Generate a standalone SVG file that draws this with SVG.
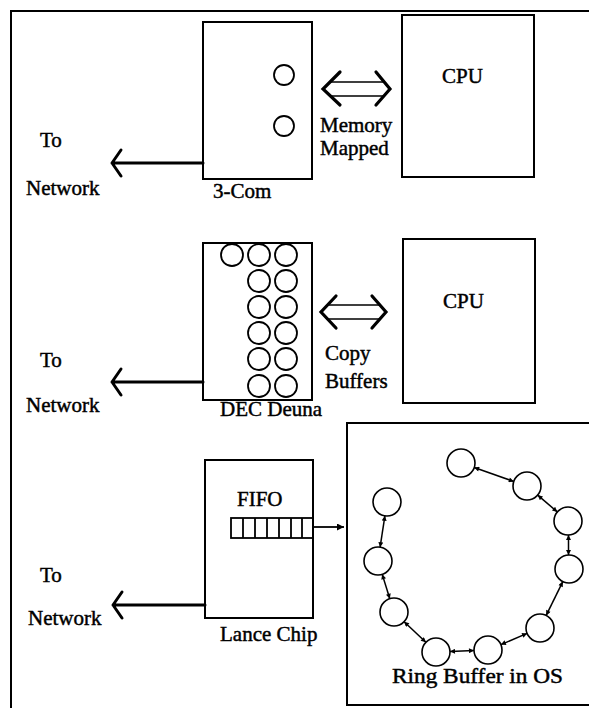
<svg xmlns="http://www.w3.org/2000/svg" width="589" height="708" viewBox="0 0 589 708">
<style>
  .box { fill: none; stroke: #000; stroke-width: 2; }
  .buf { fill: none; stroke: #000; stroke-width: 1.8; }
  .lbl { font-family: 'Liberation Serif', 'DejaVu Serif', serif; font-size: 21px; fill: #000; stroke: #000; stroke-width: 0.45; }
  .net { fill: none; stroke: #000; stroke-width: 3; stroke-linecap: round; stroke-linejoin: round; }
  .dbl { fill: none; stroke: #000; stroke-linecap: round; }
  .ring { fill: none; stroke: #000; stroke-width: 1.6; }
</style>
<defs>
  <marker id="ah" viewBox="0 0 6 6" refX="6" refY="3" markerWidth="6" markerHeight="5" orient="auto-start-reverse" markerUnits="userSpaceOnUse">
    <path d="M0,0 L6,3 L0,6 z" fill="#000"/>
  </marker>
  <marker id="ahf" viewBox="0 0 8 8" refX="8" refY="4" markerWidth="8" markerHeight="7" orient="auto" markerUnits="userSpaceOnUse">
    <path d="M0,0 L8,4 L0,8 z" fill="#000"/>
  </marker>
</defs>
<rect width="589" height="708" fill="#fff"/>

<g id="frame">
  <path d="M11,708 V11 H589" class="box"/>
</g>

<g id="threecom">
  <rect x="203" y="22" width="109" height="157" class="box"/>
  <circle cx="284" cy="75" r="10" class="buf"/>
  <circle cx="284" cy="126" r="10" class="buf"/>
  <text x="213" y="198" class="lbl">3-Com</text>
</g>
<g id="cpu1">
  <rect x="402" y="15" width="132" height="162" class="box"/>
  <text x="442" y="83" class="lbl">CPU</text>
</g>
<g id="net1">
  <text x="40" y="147" class="lbl">To</text>
  <text x="26" y="195" class="lbl">Network</text>
</g>
<g id="label-mm">
  <text x="320" y="132" class="lbl">Memory</text>
  <text x="320" y="155" class="lbl">Mapped</text>
</g>

<g id="deuna">
  <rect x="203" y="243" width="109" height="157" class="box"/>
  <circle cx="232" cy="255" r="11" class="buf"/>
  <circle cx="259" cy="255" r="11" class="buf"/>
  <circle cx="286" cy="255" r="11" class="buf"/>
  <circle cx="259" cy="281" r="11" class="buf"/>
  <circle cx="286" cy="281" r="11" class="buf"/>
  <circle cx="259" cy="307" r="11" class="buf"/>
  <circle cx="286" cy="307" r="11" class="buf"/>
  <circle cx="259" cy="333" r="11" class="buf"/>
  <circle cx="286" cy="333" r="11" class="buf"/>
  <circle cx="259" cy="359" r="11" class="buf"/>
  <circle cx="286" cy="359" r="11" class="buf"/>
  <circle cx="259" cy="386" r="11" class="buf"/>
  <circle cx="286" cy="386" r="11" class="buf"/>
  <text x="220" y="416" class="lbl">DEC Deuna</text>
</g>
<g id="cpu2">
  <rect x="403" y="239" width="132" height="164" class="box"/>
  <text x="443" y="308" class="lbl">CPU</text>
</g>
<g id="net2">
  <text x="40" y="367" class="lbl">To</text>
  <text x="26" y="412" class="lbl">Network</text>
</g>
<g id="label-cb">
  <text x="325" y="360" class="lbl">Copy</text>
  <text x="325" y="388" class="lbl">Buffers</text>
</g>

<g id="lance">
  <rect x="205" y="460" width="108" height="158" class="box"/>
  <text x="237" y="506" class="lbl">FIFO</text>
  <rect x="231" y="518" width="82" height="20" fill="none" stroke="#000" stroke-width="1.8"/>
  <path d="M243,518 V538 M255,518 V538 M267,518 V538 M279,518 V538 M291,518 V538 M302,518 V538" stroke="#000" stroke-width="1.8" fill="none"/>
  <text x="220" y="641" class="lbl">Lance Chip</text>
</g>
<g id="net3">
  <text x="40" y="582" class="lbl">To</text>
  <text x="28" y="625" class="lbl">Network</text>
</g>
<g id="ringbuffer">
  <path d="M592,423 H347 V705 H592" class="box"/>
  <circle cx="461" cy="463" r="14" class="ring"/>
  <circle cx="527" cy="486" r="14" class="ring"/>
  <circle cx="568" cy="521" r="14" class="ring"/>
  <circle cx="569" cy="569" r="14" class="ring"/>
  <circle cx="540" cy="628" r="14" class="ring"/>
  <circle cx="488" cy="650" r="14" class="ring"/>
  <circle cx="436" cy="652" r="14" class="ring"/>
  <circle cx="394" cy="612" r="14" class="ring"/>
  <circle cx="378" cy="561" r="14" class="ring"/>
  <circle cx="387" cy="502" r="14" class="ring"/>
  <text x="392" y="683" class="lbl" textLength="171" lengthAdjust="spacingAndGlyphs">Ring Buffer in OS</text>
</g>

<g id="connectors">
  <path d="M203,163 H112 M121,150 L112,163 L121,176" class="net"/>
  <path d="M203,382 H112 M121,369 L112,382 L121,395" class="net"/>
  <path d="M205,605 H113 M122,592 L113,605 L122,618" class="net"/>
  <g class="dbl">
    <path d="M331,82 H383 M331,96 H383" stroke-width="1.5"/>
    <path d="M340,72 L323,89 L340,105" stroke-width="3.2" stroke-linejoin="miter"/>
    <path d="M376,72 L390,89 L376,105" stroke-width="3.2" stroke-linejoin="miter"/>
    <path d="M329,305 H380 M329,319 H380" stroke-width="1.5"/>
    <path d="M336,296 L321,312 L336,328" stroke-width="3.2" stroke-linejoin="miter"/>
    <path d="M372,296 L386,312 L372,328" stroke-width="3.2" stroke-linejoin="miter"/>
  </g>
  <line x1="313" y1="527" x2="344" y2="527" stroke="#000" stroke-width="1.8" marker-end="url(#ahf)"/>
  <g stroke="#000" stroke-width="1.5" marker-start="url(#ah)" marker-end="url(#ah)">
    <line x1="474.2" y1="467.5" x2="513.8" y2="481.5"/>
    <line x1="537.7" y1="495.1" x2="557.3" y2="511.9"/>
    <line x1="568.5" y1="535" x2="568.5" y2="555"/>
    <line x1="562.8" y1="581.6" x2="546.2" y2="615.4"/>
    <line x1="527.1" y1="633.4" x2="500.9" y2="644.6"/>
    <line x1="474" y1="650.5" x2="450" y2="651.5"/>
    <line x1="425.9" y1="642.3" x2="404.1" y2="621.7"/>
    <line x1="389.8" y1="598.7" x2="382.2" y2="574.3"/>
    <line x1="380.1" y1="547.2" x2="384.9" y2="515.8"/>
  </g>
</g>
</svg>
